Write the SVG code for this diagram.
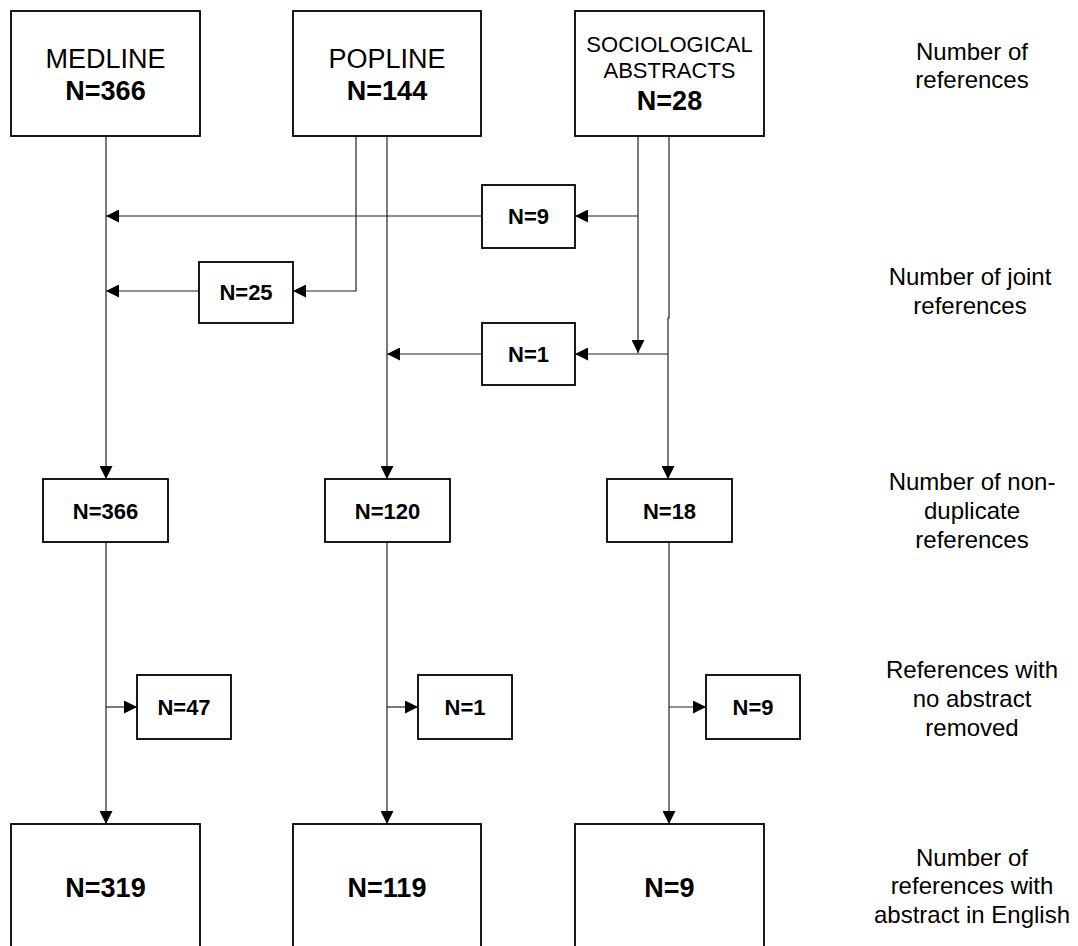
<svg xmlns="http://www.w3.org/2000/svg" width="1078" height="946" viewBox="0 0 1078 946">
<defs>
<marker id="ah" markerWidth="13" markerHeight="13" refX="13" refY="6.5" orient="auto" markerUnits="userSpaceOnUse">
<path d="M0,0 L13,6.5 L0,13 z" fill="#000"/>
</marker>
</defs>
<style>
.box{fill:#fff;stroke:#000;stroke-width:1.8}
.ln{fill:none;stroke:#222;stroke-width:1.2}
.arr{fill:none;stroke:#222;stroke-width:1.2;marker-end:url(#ah)}
text{font-family:"Liberation Sans",Arial,sans-serif;fill:#000;text-anchor:middle}
.big{font-size:27px}
.bigb{font-size:27px;font-weight:bold}
.soc{font-size:22px}
.sm{font-size:22px;font-weight:bold}
.lab{font-size:24px}
</style>
<rect width="1078" height="946" fill="#fff"/>

<g id="connectors">
<!-- Medline main -->
<line class="arr" x1="106" y1="136" x2="106" y2="479"/>
<!-- Popline left branch to N=25 -->
<polyline class="arr" points="356,136 356,291 293,291"/>
<line class="arr" x1="199" y1="291" x2="106" y2="291"/>
<!-- Popline right main -->
<line class="arr" x1="387" y1="136" x2="387" y2="479"/>
<!-- Socio left -->
<line class="arr" x1="638" y1="136" x2="638" y2="353"/>
<line class="arr" x1="638" y1="216" x2="575" y2="216"/>
<line class="arr" x1="482" y1="216" x2="106" y2="216"/>
<!-- Socio right -->
<polyline class="arr" points="669,136 669,318 668,318 668,479"/>
<line class="arr" x1="668" y1="354" x2="575" y2="354"/>
<line class="arr" x1="482" y1="354" x2="387" y2="354"/>
<!-- Lower -->
<line class="arr" x1="106" y1="542" x2="106" y2="824"/>
<line class="arr" x1="106" y1="707" x2="137" y2="707"/>
<line class="arr" x1="387" y1="542" x2="387" y2="824"/>
<line class="arr" x1="387" y1="707" x2="418" y2="707"/>
<line class="arr" x1="669" y1="542" x2="669" y2="824"/>
<line class="arr" x1="669" y1="707" x2="706" y2="707"/>
</g>

<g id="medline">
<rect class="box" x="11" y="11" width="189" height="125"/>
<text class="big" x="105.5" y="68">MEDLINE</text>
<text class="bigb" x="105.5" y="100">N=366</text>
</g>
<g id="popline">
<rect class="box" x="293" y="11" width="188" height="125"/>
<text class="big" x="387" y="68">POPLINE</text>
<text class="bigb" x="387" y="100">N=144</text>
</g>
<g id="socio">
<rect class="box" x="575" y="11" width="189" height="125"/>
<text class="soc" x="669.5" y="52">SOCIOLOGICAL</text>
<text class="soc" x="669.5" y="78">ABSTRACTS</text>
<text class="bigb" x="669.5" y="110">N=28</text>
</g>

<g id="joint9">
<rect class="box" x="482" y="185" width="93" height="63"/>
<text class="sm" x="528.5" y="224">N=9</text>
</g>
<g id="joint25">
<rect class="box" x="199" y="262" width="94" height="61"/>
<text class="sm" x="246" y="300">N=25</text>
</g>
<g id="joint1">
<rect class="box" x="482" y="323" width="93" height="62"/>
<text class="sm" x="528.5" y="362">N=1</text>
</g>

<g id="nd366">
<rect class="box" x="43" y="479" width="125" height="63"/>
<text class="sm" x="105.5" y="519">N=366</text>
</g>
<g id="nd120">
<rect class="box" x="325" y="479" width="125" height="63"/>
<text class="sm" x="387.5" y="519">N=120</text>
</g>
<g id="nd18">
<rect class="box" x="607" y="479" width="125" height="63"/>
<text class="sm" x="669.5" y="519">N=18</text>
</g>

<g id="rm47">
<rect class="box" x="137" y="675" width="94" height="64"/>
<text class="sm" x="184" y="715">N=47</text>
</g>
<g id="rm1">
<rect class="box" x="418" y="675" width="94" height="64"/>
<text class="sm" x="465" y="715">N=1</text>
</g>
<g id="rm9">
<rect class="box" x="706" y="675" width="94" height="64"/>
<text class="sm" x="753" y="715">N=9</text>
</g>

<g id="en319">
<rect class="box" x="11" y="824" width="189" height="140"/>
<text class="bigb" x="105.5" y="897">N=319</text>
</g>
<g id="en119">
<rect class="box" x="293" y="824" width="188" height="140"/>
<text class="bigb" x="387" y="897">N=119</text>
</g>
<g id="en9">
<rect class="box" x="575" y="824" width="189" height="140"/>
<text class="bigb" x="669.5" y="897">N=9</text>
</g>

<g id="labels">
<text class="lab" x="972" y="60">Number of</text>
<text class="lab" x="972" y="88">references</text>
<text class="lab" x="970" y="285">Number of joint</text>
<text class="lab" x="970" y="314">references</text>
<text class="lab" x="972" y="490">Number of non-</text>
<text class="lab" x="972" y="519">duplicate</text>
<text class="lab" x="972" y="548">references</text>
<text class="lab" x="972" y="678">References with</text>
<text class="lab" x="972" y="707">no abstract</text>
<text class="lab" x="972" y="736">removed</text>
<text class="lab" x="972" y="866">Number of</text>
<text class="lab" x="972" y="894">references with</text>
<text class="lab" x="972" y="923">abstract in English</text>
</g>
</svg>
